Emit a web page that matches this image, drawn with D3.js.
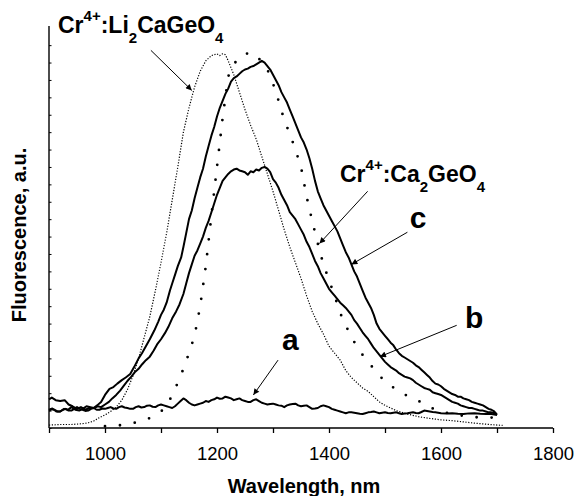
<!DOCTYPE html>
<html><head><meta charset="utf-8">
<script src="https://cdn.jsdelivr.net/npm/d3@7/dist/d3.min.js"></script>
<style>
html,body{margin:0;padding:0;background:#fff;}
svg{display:block;font-family:"Liberation Sans",Arial,Helvetica,sans-serif;}
</style></head>
<body>
<svg id="chart" width="577" height="496"></svg>
<script>
// ---- data (wavelength nm, fluorescence a.u.) ----
const xTicks = [900,1000,1100,1200,1300,1400,1500,1600,1700,1800];
const xTickLabels = [1000,1200,1400,1600,1800];
const yTicks = d3.range(0,23,1);

const liCaGeO4 = [[900,0.17],[920,0.2],[940,0.2],[960,0.25],[970,0.3],[980,0.4],[990,0.6],[1000,0.75],[1010,0.95],[1020,1.2],[1030,1.6],[1040,2.2],[1050,3.0],[1060,4.0],[1070,5.2],[1080,6.4],[1090,7.9],[1100,9.5],[1110,11.2],[1120,13.1],[1130,15.0],[1140,17.0],[1150,18.4],[1160,19.6],[1170,20.5],[1180,21.1],[1190,21.4],[1200,21.5],[1205,21.4],[1210,21.5],[1215,21.45],[1220,21.1],[1230,20.3],[1240,19.3],[1250,18.3],[1260,17.4],[1270,16.6],[1280,15.6],[1290,14.6],[1300,13.6],[1310,12.5],[1320,11.4],[1330,10.4],[1340,9.5],[1350,8.6],[1360,7.6],[1370,6.7],[1380,6.0],[1390,5.4],[1400,4.7],[1410,4.3],[1420,3.9],[1430,3.3],[1440,2.9],[1450,2.6],[1460,2.3],[1470,2.1],[1480,1.8],[1490,1.5],[1500,1.3],[1520,1.0],[1540,0.8],[1560,0.65],[1580,0.55],[1600,0.47],[1620,0.42],[1640,0.35],[1660,0.28],[1680,0.22],[1700,0.17],[1710,0.15]];

const ca2GeO4 = [[1000,0.1],[1015,0.12],[1030,0.17],[1045,0.25],[1060,0.35],[1075,0.5],[1090,0.72],[1100,0.95],[1110,1.25],[1120,1.9],[1130,2.6],[1140,3.4],[1150,4.3],[1160,5.3],[1170,7.0],[1180,9.3],[1190,12.2],[1200,15.0],[1210,17.8],[1220,20.2],[1230,20.9],[1240,21.3],[1250,21.5],[1260,21.55],[1270,21.45],[1280,21.0],[1290,20.6],[1300,19.8],[1310,18.8],[1320,17.7],[1330,16.9],[1340,16.0],[1350,15.0],[1360,13.3],[1370,11.9],[1380,10.6],[1390,9.4],[1400,8.5],[1410,7.6],[1420,6.6],[1430,5.9],[1440,5.2],[1450,4.7],[1460,4.2],[1470,3.8],[1480,3.4],[1490,3.0],[1500,2.7],[1510,2.45],[1520,2.2],[1530,2.0],[1540,1.85],[1550,1.7],[1560,1.55],[1570,1.4],[1580,1.2],[1590,1.05],[1600,0.95],[1620,0.8],[1640,0.7],[1660,0.62],[1680,0.6],[1700,0.6]];

const curveC = [[900,1.65],[905,1.75],[912,1.6],[920,1.55],[928,1.6],[935,1.35],[942,1.25],[950,1.1],[957,1.2],[965,1.05],[972,1.15],[980,1.15],[986,1.3],[993,1.5],[1000,1.9],[1008,2.25],[1015,2.35],[1022,2.55],[1030,2.75],[1037,2.9],[1045,3.1],[1052,3.5],[1060,4.0],[1066,4.3],[1073,4.7],[1080,5.1],[1088,5.6],[1095,6.1],[1100,6.5],[1105,6.8],[1110,7.2],[1116,7.9],[1120,8.3],[1126,8.9],[1130,9.3],[1136,9.8],[1140,10.4],[1145,11.2],[1150,12.0],[1155,12.5],[1160,13.2],[1165,13.8],[1170,14.4],[1175,14.9],[1180,15.6],[1185,16.2],[1190,16.8],[1195,17.3],[1200,17.9],[1205,18.4],[1210,18.8],[1215,19.2],[1220,19.5],[1225,19.9],[1230,20.1],[1235,20.2],[1240,20.35],[1245,20.5],[1250,20.6],[1255,20.65],[1260,20.75],[1265,20.8],[1270,20.9],[1275,21.0],[1280,21.1],[1285,21.0],[1290,20.8],[1295,20.6],[1300,20.3],[1305,20.0],[1310,19.7],[1315,19.3],[1320,19.0],[1325,18.7],[1330,18.3],[1335,17.9],[1340,17.5],[1345,17.1],[1350,16.7],[1355,16.4],[1360,16.0],[1365,15.5],[1370,14.9],[1375,14.2],[1380,13.6],[1385,13.2],[1390,12.8],[1395,12.5],[1400,12.2],[1405,11.9],[1410,11.6],[1415,11.3],[1420,10.9],[1425,10.5],[1430,10.1],[1435,9.8],[1440,9.4],[1445,9.0],[1450,8.7],[1455,8.3],[1460,7.9],[1465,7.5],[1470,7.2],[1475,6.9],[1480,6.5],[1485,6.0],[1490,5.7],[1495,5.5],[1500,5.3],[1505,5.1],[1510,4.9],[1515,4.75],[1520,4.5],[1525,4.3],[1530,4.15],[1535,4.05],[1540,3.95],[1545,3.85],[1550,3.75],[1555,3.6],[1560,3.5],[1565,3.35],[1570,3.2],[1575,3.05],[1580,2.9],[1585,2.7],[1590,2.55],[1595,2.5],[1600,2.4],[1605,2.25],[1610,2.15],[1615,2.05],[1620,1.95],[1625,1.9],[1630,1.8],[1635,1.8],[1640,1.7],[1645,1.65],[1650,1.6],[1655,1.5],[1660,1.45],[1665,1.4],[1670,1.35],[1675,1.3],[1680,1.2],[1685,1.1],[1690,1.05],[1695,0.95],[1700,0.75]];

const curveB = [[900,1.05],[906,1.12],[913,0.95],[920,0.95],[927,1.1],[934,1.05],[940,1.2],[947,1.05],[954,1.0],[960,1.1],[967,1.25],[974,1.2],[980,1.15],[987,1.25],[993,1.2],[1000,1.35],[1007,1.5],[1013,1.7],[1020,1.9],[1027,2.15],[1033,2.4],[1040,2.7],[1047,2.95],[1053,3.2],[1060,3.4],[1066,3.65],[1073,3.9],[1080,4.1],[1087,4.45],[1093,4.8],[1100,5.1],[1107,5.45],[1113,5.8],[1120,6.3],[1127,6.7],[1133,7.1],[1140,7.7],[1145,8.3],[1150,8.9],[1155,9.4],[1160,9.9],[1165,10.2],[1170,10.6],[1175,11.0],[1180,11.5],[1185,11.9],[1190,12.4],[1195,12.9],[1200,13.4],[1205,13.8],[1210,14.2],[1215,14.4],[1220,14.6],[1225,14.75],[1230,14.85],[1235,14.9],[1240,14.8],[1245,14.75],[1250,14.7],[1255,14.55],[1260,14.75],[1265,14.7],[1270,14.85],[1275,14.8],[1280,14.95],[1285,15.0],[1290,14.9],[1295,14.7],[1300,14.3],[1305,14.1],[1310,13.8],[1315,13.4],[1320,13.1],[1325,12.8],[1330,12.4],[1335,12.2],[1340,12.0],[1345,11.7],[1350,11.4],[1355,11.1],[1360,10.7],[1365,10.4],[1370,10.0],[1375,9.6],[1380,9.3],[1385,8.9],[1390,8.6],[1395,8.3],[1400,8.0],[1405,7.8],[1410,7.6],[1415,7.4],[1420,7.2],[1425,7.05],[1430,6.9],[1435,6.7],[1440,6.5],[1445,6.2],[1450,6.0],[1455,5.75],[1460,5.5],[1465,5.3],[1470,5.1],[1475,4.85],[1480,4.6],[1485,4.4],[1490,4.2],[1495,4.0],[1500,3.8],[1505,3.65],[1510,3.5],[1515,3.4],[1520,3.3],[1525,3.15],[1530,3.05],[1535,2.95],[1540,2.9],[1545,2.85],[1550,2.75],[1555,2.6],[1560,2.5],[1565,2.4],[1570,2.3],[1575,2.25],[1580,2.2],[1585,2.05],[1590,2.0],[1595,1.95],[1600,1.9],[1605,1.8],[1610,1.7],[1615,1.6],[1620,1.5],[1625,1.45],[1630,1.4],[1635,1.3],[1640,1.25],[1645,1.2],[1650,1.15],[1655,1.15],[1660,1.1],[1665,1.05],[1670,1.0],[1675,1.0],[1680,0.95],[1685,0.9],[1690,0.9],[1695,0.85],[1700,0.8]];

const curveA = [[900,1.0],[905,1.08],[910,1.05],[915,0.95],[920,0.95],[925,1.05],[930,1.1],[935,1.0],[940,1.0],[945,1.1],[950,1.2],[955,1.1],[960,1.05],[965,0.98],[970,1.0],[975,1.1],[980,1.15],[985,1.05],[990,1.05],[995,1.12],[1000,1.1],[1005,1.15],[1010,1.2],[1015,1.12],[1020,1.1],[1025,1.2],[1030,1.25],[1035,1.18],[1040,1.15],[1045,1.1],[1050,1.1],[1055,1.2],[1060,1.25],[1065,1.18],[1070,1.2],[1075,1.28],[1080,1.3],[1085,1.22],[1090,1.2],[1095,1.3],[1100,1.35],[1105,1.3],[1110,1.25],[1115,1.2],[1120,1.15],[1125,1.25],[1130,1.4],[1135,1.55],[1140,1.7],[1145,1.6],[1150,1.45],[1155,1.35],[1160,1.3],[1165,1.35],[1170,1.4],[1175,1.45],[1180,1.55],[1185,1.5],[1190,1.6],[1195,1.65],[1200,1.75],[1205,1.68],[1210,1.7],[1215,1.8],[1220,1.75],[1225,1.7],[1230,1.6],[1235,1.65],[1240,1.7],[1245,1.6],[1250,1.55],[1255,1.5],[1260,1.5],[1265,1.6],[1270,1.65],[1275,1.55],[1280,1.45],[1285,1.4],[1290,1.35],[1295,1.38],[1300,1.4],[1305,1.35],[1310,1.3],[1315,1.28],[1320,1.2],[1325,1.3],[1330,1.35],[1335,1.38],[1340,1.4],[1345,1.3],[1350,1.25],[1355,1.28],[1360,1.3],[1365,1.2],[1370,1.1],[1375,1.12],[1380,1.15],[1385,1.25],[1390,1.3],[1395,1.25],[1400,1.2],[1405,1.1],[1410,1.05],[1415,1.0],[1420,0.95],[1425,0.9],[1430,0.85],[1435,0.9],[1440,0.9],[1445,0.88],[1450,0.85],[1455,0.82],[1460,0.8],[1465,0.85],[1470,0.9],[1475,0.92],[1480,0.95],[1485,0.9],[1490,0.85],[1495,0.88],[1500,0.9],[1505,0.86],[1510,0.85],[1515,0.88],[1520,0.9],[1525,0.85],[1530,0.8],[1535,0.83],[1540,0.85],[1545,0.88],[1550,0.9],[1555,0.86],[1560,0.85],[1565,0.92],[1570,1.0],[1575,0.98],[1580,0.95],[1585,0.92],[1590,0.9],[1595,0.88],[1600,0.85],[1610,0.84],[1620,0.85],[1630,0.82],[1640,0.8],[1650,0.84],[1660,0.85],[1670,0.82],[1680,0.8],[1690,0.8],[1700,0.75]];

// annotations: [tailWl, tailVal, tipWl, tipVal]
const arrowLi = [1082,21.7,1155,19.4];
const arrowCa = [1469,13.6,1383,10.6];
const arrowC  = [1540,11.25,1440,9.4];
const arrowB  = [1628,5.9,1491,4.1];
const arrowA  = [1309,3.9,1265,1.9];

// ---- drawing ----
const svg = d3.select("#chart");
const x = d3.scaleLinear().domain([900,1800]).range([49,553]);
const y = d3.scaleLinear().domain([0,23.1]).range([428,26]);

svg.append("defs").append("marker")
  .attr("id","ah").attr("viewBox","0 0 10 10").attr("refX",10).attr("refY",5)
  .attr("markerWidth",8).attr("markerHeight",6).attr("markerUnits","userSpaceOnUse")
  .attr("orient","auto")
  .append("path").attr("d","M0,0 L10,5 L0,10 z").attr("fill","#000");

const line = d3.line().x(d=>x(d[0])).y(d=>y(d[1]));

// curves
svg.append("path").datum(liCaGeO4).attr("d",line)
  .attr("fill","none").attr("stroke","#000").attr("stroke-width",1.2)
  .attr("stroke-dasharray","1.2,1.6");
svg.append("path").datum(ca2GeO4).attr("d",line)
  .attr("fill","none").attr("stroke","#000").attr("stroke-width",2.8)
  .attr("stroke-linecap","round").attr("stroke-dasharray","0,15");
[curveC,curveB,curveA].forEach(s=>{
  svg.append("path").datum(s).attr("d",line)
    .attr("fill","none").attr("stroke","#000").attr("stroke-width",2)
    .attr("stroke-linejoin","round");
});

// axes
const xAxis = d3.axisBottom(x).tickValues(xTicks).tickSize(5)
  .tickFormat(d => xTickLabels.includes(d) ? d : "");
const gx = svg.append("g").attr("transform","translate(0,428)").call(xAxis);
gx.select(".domain").attr("d","M49,0H553").attr("stroke-width",1.4);
gx.selectAll(".tick line").attr("stroke-width",1.3);
gx.selectAll(".tick text").attr("font-size","18.5px").attr("font-family","Liberation Sans, Arial, sans-serif")
  .attr("fill","#000").attr("dy","0").attr("y",32);

const yAxis = d3.axisRight(y).tickValues(yTicks).tickSize(2.5).tickFormat("");
const gy = svg.append("g").attr("transform","translate(49,0)").call(yAxis);
gy.select(".domain").attr("d","M0,428V26").attr("stroke-width",1.4);
gy.selectAll(".tick line").attr("stroke-width",1);

// axis titles
svg.append("text").attr("x",304).attr("y",493).attr("text-anchor","middle")
  .attr("font-size","20px").attr("font-weight","bold").text("Wavelength, nm");
svg.append("text").attr("transform","translate(26,235) rotate(-90)").attr("text-anchor","middle")
  .attr("font-size","20px").attr("font-weight","bold").text("Fluorescence, a.u.");

// arrows
function arrow(a){
  svg.append("line").attr("x1",x(a[0])).attr("y1",y(a[1])).attr("x2",x(a[2])).attr("y2",y(a[3]))
    .attr("stroke","#000").attr("stroke-width",1).attr("marker-end","url(#ah)");
}
[arrowLi,arrowCa,arrowC,arrowB,arrowA].forEach(arrow);

// compound labels
function chem(px,py,parts){
  const t = svg.append("text").attr("x",px).attr("y",py).attr("font-weight","bold").attr("font-size","23px");
  let shift = 0;
  parts.forEach(p=>{
    const target = p[1]==="sup" ? -12 : p[1]==="sub" ? 10 : 0;
    t.append("tspan").attr("dy",target-shift).attr("font-size",p[1]==="n"?"23px":"15px").text(p[0]);
    shift = target;
  });
}
chem(58,33,[["Cr","n"],["4+","sup"],[":Li","n"],["2","sub"],["CaGeO","n"],["4","sub"]]);
chem(340,182,[["Cr","n"],["4+","sup"],[":Ca","n"],["2","sub"],["GeO","n"],["4","sub"]]);

// series letters
svg.append("text").attr("x",x(1316)).attr("y",y(4.5)).attr("font-size","30px").attr("font-weight","bold").text("a");
svg.append("text").attr("x",x(1643)).attr("y",y(5.72)).attr("font-size","30px").attr("font-weight","bold").text("b");
svg.append("text").attr("x",x(1544)).attr("y",y(11.5)).attr("font-size","30px").attr("font-weight","bold").text("c");
</script>
</body></html>
